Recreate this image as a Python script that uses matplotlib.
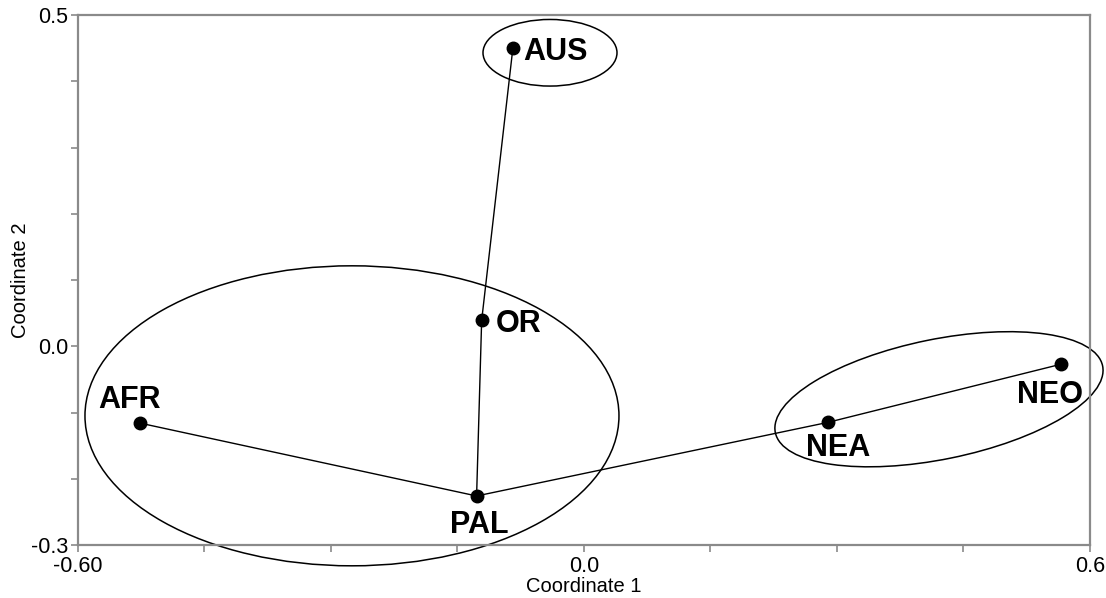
import matplotlib
matplotlib.use("Agg")
import matplotlib.pyplot as plt
from matplotlib.patches import Ellipse
import matplotlib.transforms as mtransforms

plt.rcParams['font.family'] = ['Liberation Sans', 'DejaVu Sans']

# ---- data ----
regions = ["AUS", "OR", "AFR", "PAL", "NEA", "NEO"]
coord1 = [-0.084, -0.121, -0.526, -0.127, 0.289, 0.566]
coord2 = [0.450, 0.039, -0.116, -0.226, -0.115, -0.027]
# minimum spanning tree links
links = [("AUS", "OR"), ("OR", "PAL"), ("AFR", "PAL"), ("PAL", "NEA"), ("NEA", "NEO")]

x_ticks = [-0.60, -0.45, -0.30, -0.15, 0.0, 0.15, 0.30, 0.45, 0.60]
x_ticklabels = ["-0.60", "", "", "", "0.0", "", "", "", "0.6"]
y_ticks = [-0.3, -0.2, -0.1, 0.0, 0.1, 0.2, 0.3, 0.4, 0.5]
y_ticklabels = ["-0.3", "", "", "0.0", "", "", "", "", "0.5"]

# group ellipses: centre (data), semi-axes (pixels), angle (deg)
ell_centers = [(-0.040, 0.443), (-0.2747, -0.105), (0.421, -0.080)]
ell_semi = [(67, 33.3), (267, 150), (167, 60)]
ell_angles = [0, 0, 11.5]

# label offsets (pixels) and alignment
label_offsets = {"AUS": (10, -4), "OR": (14, -4), "AFR": (-10, 15),
                 "PAL": (3, -37), "NEA": (11, -34), "NEO": (-11, -39)}
label_align = {"AUS": ("left", "center"), "OR": ("left", "center"),
               "AFR": ("center", "baseline"), "PAL": ("center", "baseline"),
               "NEA": ("center", "baseline"), "NEO": ("center", "baseline")}

fig = plt.figure(figsize=(11.06, 5.98), dpi=100)
W, H = 1106, 598
ax = fig.add_axes([77.5 / W, (H - 545) / H, (1090 - 77.5) / W, 530 / H])
ax.set_xlim(-0.6, 0.6)
ax.set_ylim(-0.3, 0.5)

pos = {r: (x, y) for r, x, y in zip(regions, coord1, coord2)}
for a, b in links:
    ax.plot([pos[a][0], pos[b][0]], [pos[a][1], pos[b][1]], color="black", lw=1.0, zorder=2)

ax.plot(coord1, coord2, "o", color="black", markersize=9, zorder=3)

for r in regions:
    ha, va = label_align[r]
    ax.annotate(r, pos[r], xytext=label_offsets[r], textcoords="offset pixels",
                ha=ha, va=va, fontsize=22, fontweight="bold", color="black")

for (cx, cy), (sa, sb), ang in zip(ell_centers, ell_semi, ell_angles):
    tr = mtransforms.Affine2D() + mtransforms.ScaledTranslation(cx, cy, ax.transData)
    e = Ellipse((0, 0), 2 * sa, 2 * sb, angle=ang, transform=tr, fill=False,
                edgecolor="black", lw=1.1, clip_on=False, zorder=2)
    ax.add_artist(e)

spine_col = "#8a8a8a"
for s in ax.spines.values():
    s.set_color(spine_col)
    s.set_linewidth(1.6)

ax.set_xticks(x_ticks)
ax.set_xticklabels(x_ticklabels)
ax.set_yticks(y_ticks)
ax.set_yticklabels(y_ticklabels)
ax.tick_params(axis="both", direction="out", length=5, width=1.2, color=spine_col,
               labelsize=15.5, labelcolor="black")
ax.tick_params(axis="x", pad=3)
ax.tick_params(axis="y", pad=1.5)

ax.set_xlabel("Coordinate 1", fontsize=14.5, labelpad=0)
ax.set_ylabel("Coordinate 2", fontsize=14.5, labelpad=1)

fig.savefig("out.png", dpi=100)
